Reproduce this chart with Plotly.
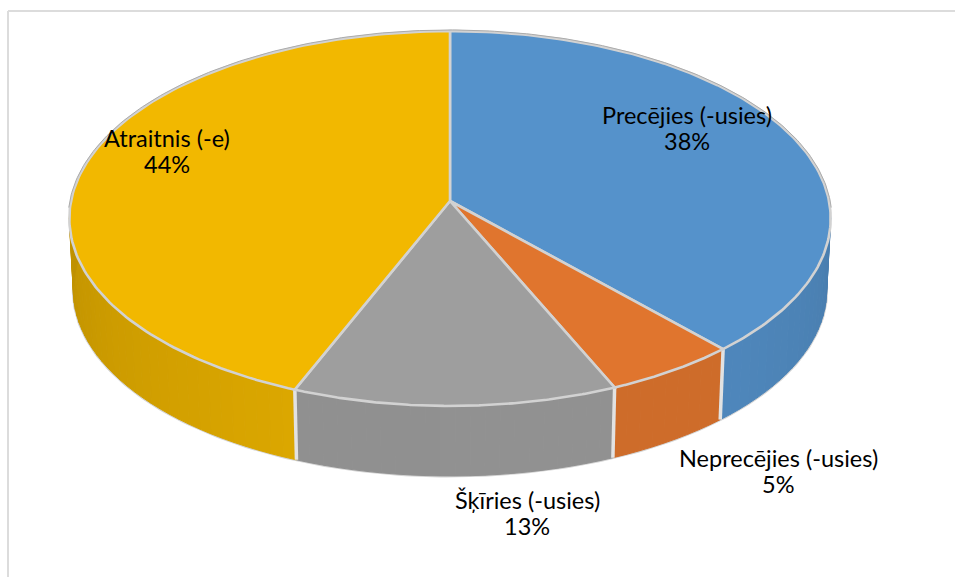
import numpy as np
import plotly.graph_objects as go

categories = ["Precējies (-usies)", "Neprecējies (-usies)", "Šķīries (-usies)", "Atraitnis (-e)"]
shares = [38.3, 5.2, 12.6, 43.9]
colors = ["#5592cb", "#e0752e", "#9e9e9e", "#f2b800"]
label_x = [687, 778, 527, 167]
label_y = [128, 471, 513, 151]

CX, K = 450.0, 0.0934
TOP = dict(cy=201.0, rx=379.0, ry=185.8)
BOT = dict(cy=273.0, rx=375.0, ry=184.0)
W, H = 955, 577


def project(deg, plane):
    a = np.radians(deg)
    u, v = np.sin(a), -np.cos(a)
    d = 1 - K * v
    return CX + plane["rx"] * u / d, plane["cy"] + plane["ry"] * v / d


def shade(deg):
    return np.interp(deg, [90, 135, 160, 200, 235, 270], [0.85, 0.92, 0.92, 0.91, 0.85, 0.79])


def rgb(hexcol, f):
    r, g, b = (int(hexcol[i:i + 2], 16) for i in (1, 3, 5))
    return f"rgb({r * f:.0f},{g * f:.0f},{b * f:.0f})"


def poly(x, y, fill, line, width):
    return go.Scatter(x=list(x), y=list(y), mode="lines", fill="toself", fillcolor=fill,
                      line=dict(color=line, width=width), hoverinfo="skip", showlegend=False)


def stroke(x, y, color, width):
    return go.Scatter(x=list(x), y=list(y), mode="lines", line=dict(color=color, width=width),
                      hoverinfo="skip", showlegend=False)


fig = go.Figure()
edges = np.concatenate([[0], np.cumsum(shares) / sum(shares) * 360])

# outer silhouette of the side wall
arc = np.linspace(85, 275, 200)
bx, by = project(arc, BOT)
fig.add_trace(stroke(bx, by, "#d4d4d4", 3))

# side wall, in narrow vertical bands
for i, col in enumerate(colors):
    lo, hi = max(edges[i], 85), min(edges[i + 1], 275)
    if hi <= lo:
        continue
    steps = np.linspace(lo, hi, max(2, int((hi - lo) / 2) + 1))
    for a0, a1 in zip(steps[:-1], steps[1:]):
        seg = np.linspace(a0, a1, 3)
        x0, y0 = project(seg, TOP)
        x1, y1 = project(seg[::-1], BOT)
        c = rgb(col, shade((a0 + a1) / 2))
        fig.add_trace(poly(np.r_[x0, x1, x0[0]], np.r_[y0, y1, y0[0]], c, c, 1.0))

# separators on the wall
for e in edges[1:-1]:
    x0, y0 = project(e, TOP)
    x1, y1 = project(e, BOT)
    fig.add_trace(stroke([x0, x1], [y0, y1], "#e2e2e2", 3.5))

# top face
for i, col in enumerate(colors):
    seg = np.linspace(edges[i], edges[i + 1], 160)
    x, y = project(seg, TOP)
    fig.add_trace(poly(np.r_[CX, x, CX], np.r_[TOP["cy"], y, TOP["cy"]], col, "#d2d2d2", 2.6))

# darker hairline along the back of the rim
back = np.linspace(-92, 92, 240)
rx, ry = project(back, dict(TOP, rx=380.2, ry=187.0))
fig.add_trace(stroke(rx, ry, "#ababab", 1))

for name, share, x, y in zip(categories, shares, label_x, label_y):
    for text, yy in ((name, y - 13), (f"{round(share)}%", y + 13)):
        fig.add_annotation(x=x, y=yy, xref="x", yref="y", text=text, showarrow=False,
                           font=dict(family="Lato", size=23.5, color="#000000"))

for x0, y0, x1, y1 in [(8, 11, 955, 11), (8, 11, 8, 577)]:
    fig.add_shape(type="line", x0=x0, y0=y0, x1=x1, y1=y1, xref="x", yref="y",
                  line=dict(color="#dcdcdc", width=2))

fig.update_layout(width=W, height=H, margin=dict(l=0, r=0, t=0, b=0),
                  paper_bgcolor="white", plot_bgcolor="white", showlegend=False,
                  xaxis=dict(range=[0, W], visible=False, fixedrange=True),
                  yaxis=dict(range=[H, 0], visible=False, fixedrange=True))
fig.write_html("out.html", config=dict(displayModeBar=False),
               post_script="document.body.style.margin='0';document.body.style.overflow='hidden';")
